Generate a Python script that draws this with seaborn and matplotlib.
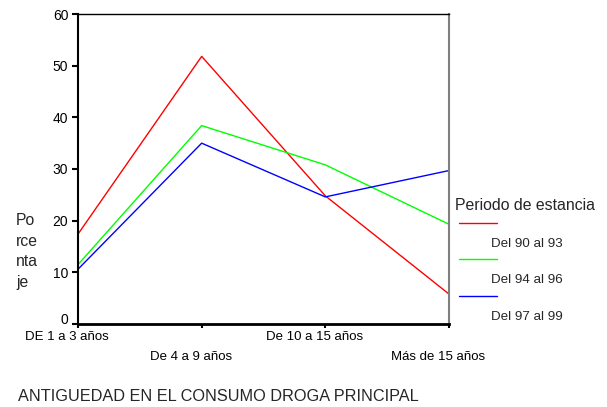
import pandas as pd
import seaborn as sns
import matplotlib.pyplot as plt
from matplotlib.lines import Line2D
from matplotlib.transforms import ScaledTranslation

categorias = ['DE 1 a 3 años', 'De 4 a 9 años', 'De 10 a 15 años', 'Más de 15 años']
periodos = ['Del 90 al 93', 'Del 94 al 96', 'Del 97 al 99']
del_90_93 = [17.4, 51.8, 24.8, 5.8]
del_94_96 = [11.5, 38.4, 30.8, 19.3]
del_97_99 = [10.6, 35.0, 24.6, 29.7]
colores = ['#ff0000', '#00ff00', '#0000ff']
y_ticks = [0, 10, 20, 30, 40, 50, 60]


def build_frame():
    filas = []
    for periodo, valores in zip(periodos, [del_90_93, del_94_96, del_97_99]):
        for i, v in enumerate(valores):
            filas.append({'pos': i, 'Periodo': periodo, 'Porcentaje': v})
    return pd.DataFrame(filas)


def plot_chart(df):
    sns.set_style('white')
    plt.rcParams['font.family'] = ['Liberation Sans', 'DejaVu Sans']

    fig = plt.figure(figsize=(6.07, 4.07), dpi=100)
    ax = fig.add_axes([78 / 607, 1 - 324 / 407, (449 - 78) / 607, (324 - 14) / 407])

    sns.lineplot(data=df, x='pos', y='Porcentaje', hue='Periodo', palette=colores,
                 hue_order=periodos, legend=False, linewidth=1.0, ax=ax)

    ax.set_xlim(0, 3)
    ax.set_ylim(0, 60)
    ax.set_yticks(y_ticks)
    ax.set_xticks(range(len(categorias)))
    etiquetas = [c if i % 2 == 0 else '\n' + c for i, c in enumerate(categorias)]
    ax.set_xticklabels(etiquetas, fontsize=9.5, linespacing=1.9)
    ax.tick_params(axis='y', labelsize=10, direction='out', length=4, width=1.5,
                   left=True, pad=3, colors='black')
    ax.tick_params(axis='x', direction='out', length=3, width=1.5, bottom=True, pad=2,
                   colors='black')
    ax.set_xlabel('')
    ax.set_ylabel('')

    # etiquetas del eje x algo desplazadas a la izquierda, el 0 algo subido
    desp = ScaledTranslation(-11 / 100, 0, fig.dpi_scale_trans)
    for lab in ax.get_xticklabels():
        lab.set_transform(lab.get_transform() + desp)
    sube = ScaledTranslation(0, 6 / 100, fig.dpi_scale_trans)
    cero = ax.get_yticklabels()[0]
    cero.set_transform(cero.get_transform() + sube)

    ax.spines['left'].set_linewidth(1.5)
    ax.spines['bottom'].set_linewidth(2.0)
    ax.spines['top'].set_linewidth(1.0)
    ax.spines['right'].set_linewidth(1.5)
    ax.spines['right'].set_color('#808080')
    for s in ['left', 'bottom', 'top']:
        ax.spines[s].set_color('black')

    # eje y: texto partido en trozos
    fig.text(16 / 607, 1 - 251.5 / 407, 'Po\nrce\nnta\nje', fontsize=11.3,
             va='center', ha='left', linespacing=1.45)
    fig.text(18 / 607, 1 - 396.5 / 407, 'ANTIGUEDAD EN EL CONSUMO DROGA PRINCIPAL',
             fontsize=11.7, va='center', ha='left')

    # leyenda
    fig.text(455 / 607, 1 - 205 / 407, 'Periodo de estancia', fontsize=11.4,
             va='center', ha='left')
    ys_linea = [222.7, 259.3, 296.0]
    ys_texto = [244.3, 280.0, 316.7]
    for periodo, color, yl, yt in zip(periodos, colores, ys_linea, ys_texto):
        fig.add_artist(Line2D([459 / 607, 497 / 607], [1 - yl / 407, 1 - yl / 407],
                              color=color, linewidth=1.0))
        fig.text(491 / 607, 1 - yt / 407, periodo, fontsize=9.6, va='center', ha='left')

    fig.savefig('out.png', dpi=100, facecolor='white')


if __name__ == '__main__':
    plot_chart(build_frame())
